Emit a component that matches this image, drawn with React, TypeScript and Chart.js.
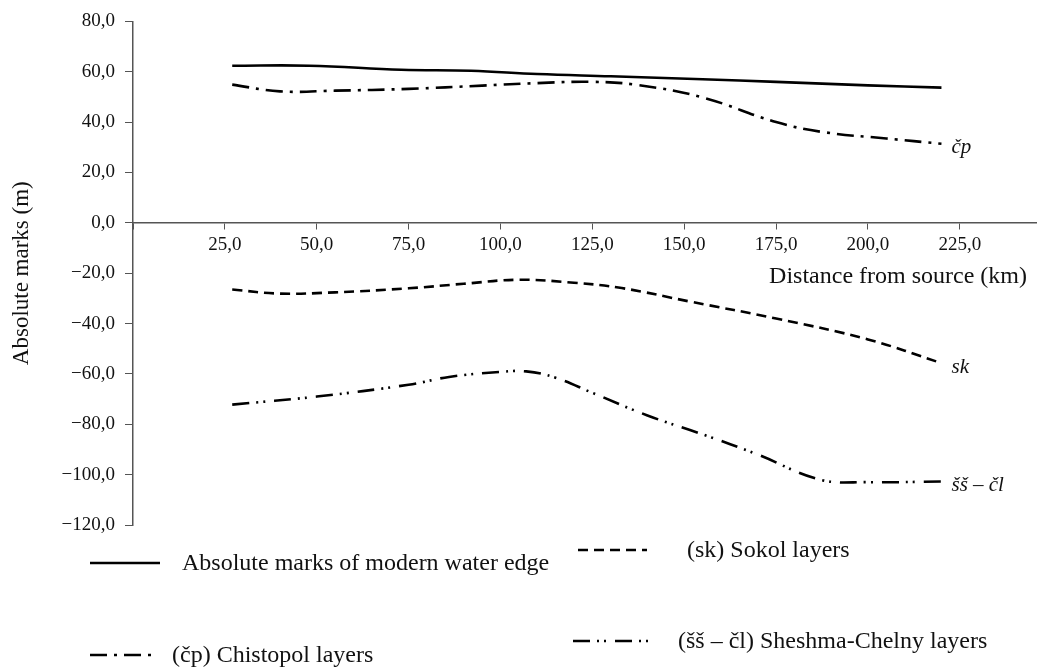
import React, { useEffect, useRef } from "react";
import { Chart, registerables } from "chart.js";

Chart.register(...registerables);

// Data (distance km, absolute marks m)
const waterX = [27, 48, 73, 92, 110, 130, 155, 175, 200, 220];
const waterY = [62.4, 62.4, 60.8, 60.4, 59.1, 58.2, 57.0, 56.0, 54.6, 53.7];

const chistopolX = [27, 40, 55, 75, 95, 110, 125, 137, 155, 175, 188, 205, 220];
const chistopolY = [54.9, 52.2, 52.5, 53.2, 54.5, 55.5, 56.0, 54.8, 49.8, 40.0, 36.0, 33.5, 31.4];

const sokolX = [27, 40, 55, 75, 90, 105, 120, 133, 152, 175, 200, 220];
const sokolY = [-26.5, -28.1, -27.6, -26.0, -24.2, -22.6, -23.8, -25.9, -31.4, -38.0, -46.3, -55.7];

const sheshmaX = [27, 50, 75, 86, 100, 107, 115, 125, 140, 155, 170, 187, 200, 220];
const sheshmaY = [-72.2, -69.0, -64.3, -61.2, -59.2, -59.0, -61.5, -67.5, -76.5, -84.0, -92.0, -102.0, -103.0, -102.7];

const seriesNames = [
  "Absolute marks of modern water edge",
  "(čp) Chistopol layers",
  "(sk) Sokol layers",
  "(šš – čl) Sheshma-Chelny layers",
];
const endLabels = ["", "čp", "sk", "šš – čl"];

const yMin = -120;
const yMax = 80;
const yStep = 20;
const xMin = 0;
const xMax = 246;
const xStep = 25;

const dashes: number[][] = [[], [17, 7, 3, 7], [10, 6], [17, 7, 2, 5, 2, 9]];

const SERIF = "'Liberation Serif', 'Times New Roman', serif";

const fmt = (v: number) => v.toFixed(1).replace(".", ",").replace("-", "\u2212");

const zip = (xs: number[], ys: number[]) => xs.map((x, i) => ({ x, y: ys[i] }));

const annotations = {
  id: "annotations",
  afterDraw(chart: any) {
    const ctx = chart.ctx as CanvasRenderingContext2D;
    const xs = chart.scales.x;
    const ys = chart.scales.y;
    ctx.save();
    ctx.fillStyle = "#111";
    // x-axis title
    ctx.font = `24px ${SERIF}`;
    ctx.textAlign = "right";
    ctx.textBaseline = "middle";
    ctx.fillText("Distance from source (km)", 1027, 277);

    // end labels
    ctx.font = `italic 21px ${SERIF}`;
    ctx.textAlign = "left";
    chart.data.datasets.forEach((ds: any, i: number) => {
      if (!endLabels[i]) return;
      const last = ds.data[ds.data.length - 1];
      const px = xs.getPixelForValue(last.x);
      const py = ys.getPixelForValue(last.y);
      ctx.fillText(endLabels[i], px + 10, py + 4);
    });

    // legend
    const items = [
      { i: 0, x1: 90, x2: 160, y: 563, tx: 182 },
      { i: 2, x1: 578, x2: 647, y: 550, tx: 687 },
      { i: 1, x1: 90, x2: 155, y: 655, tx: 172 },
      { i: 3, x1: 573, x2: 648, y: 641, tx: 678 },
    ];
    ctx.font = `24px ${SERIF}`;
    items.forEach((it) => {
      ctx.strokeStyle = "#000";
      ctx.lineWidth = 2.5;
      ctx.setLineDash(dashes[it.i]);
      ctx.beginPath();
      ctx.moveTo(it.x1, it.y);
      ctx.lineTo(it.x2, it.y);
      ctx.stroke();
      ctx.setLineDash([]);
      ctx.fillText(seriesNames[it.i], it.tx, it.y + 1);
    });
    ctx.restore();
  },
};

export default function App() {
  const ref = useRef<HTMLCanvasElement | null>(null);
  useEffect(() => {
    if (!ref.current) return;
    const allX = [waterX, chistopolX, sokolX, sheshmaX];
    const allY = [waterY, chistopolY, sokolY, sheshmaY];
    const chart = new Chart(ref.current, {
      type: "line",
      data: {
        datasets: seriesNames.map((name, i) => ({
          label: name,
          data: zip(allX[i], allY[i]),
          borderColor: "#000",
          borderWidth: 2.6,
          borderDash: dashes[i],
          pointRadius: 0,
          tension: 0.4,
          fill: false,
        })),
      },
      options: {
        animation: false,
        responsive: false,
        layout: { padding: { top: 15, bottom: 145, left: 0, right: 0 } },
        plugins: { legend: { display: false }, tooltip: { enabled: false } },
        scales: {
          x: {
            type: "linear",
            min: xMin,
            max: xMax,
            position: { y: 0 } as any,
            grid: { drawOnChartArea: false, drawTicks: true, tickLength: 6, color: "#555" },
            border: { display: true, color: "#555", width: 1.5 },
            ticks: {
              stepSize: xStep,
              includeBounds: false,
              padding: 5,
              color: "#111",
              font: { family: SERIF, size: 19 },
              maxRotation: 0,
              callback: (v: any) => (Number(v) === 0 ? "" : fmt(Number(v))),
            },
          },
          y: {
            type: "linear",
            min: yMin,
            max: yMax,
            grid: { drawOnChartArea: false, drawTicks: true, tickLength: 8, color: "#555" },
            border: { display: true, color: "#555", width: 1.5 },
            ticks: {
              stepSize: yStep,
              padding: 10,
              color: "#111",
              font: { family: SERIF, size: 19 },
              callback: (v: any) => fmt(Number(v)),
            },
            title: {
              display: true,
              text: "Absolute marks (m)",
              color: "#111",
              font: { family: SERIF, size: 23 },
              padding: { top: 8, bottom: 20 },
            },
            afterFit: (s: any) => {
              s.width = 133;
            },
          },
        },
      },
      plugins: [annotations],
    });
    return () => chart.destroy();
  }, []);
  return (
    <div style={{ position: "absolute", left: 0, top: 0, width: 1037, height: 670, background: "#fff" }}>
      <canvas ref={ref} width={1037} height={670} style={{ display: "block" }} />
    </div>
  );
}
